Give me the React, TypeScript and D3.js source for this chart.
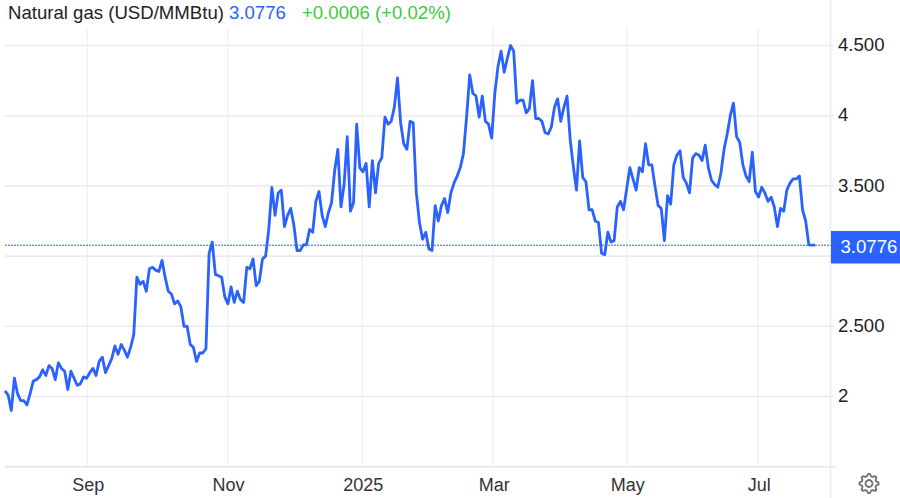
import * as d3 from 'd3';

const title = 'Natural gas (USD/MMBtu)';
const lastLabel = '3.0776';
const changeLabel = '+0.0006 (+0.02%)';

const prices = [
  2.04, 2.01, 1.9, 2.13, 2.02, 1.97, 1.97, 1.94, 2.02, 2.11, 2.12, 2.14, 2.19, 2.15, 2.22, 2.2, 2.12, 2.24, 2.2, 2.18,
  2.05, 2.18, 2.13, 2.08, 2.09, 2.14, 2.13, 2.17, 2.2, 2.15, 2.25, 2.28, 2.17, 2.22, 2.27, 2.36, 2.3, 2.37, 2.33, 2.28,
  2.35, 2.44, 2.85, 2.8, 2.82, 2.75, 2.91, 2.92, 2.9, 2.89, 2.97, 2.85, 2.75, 2.73, 2.66, 2.68, 2.64, 2.5, 2.5, 2.37,
  2.35, 2.25, 2.31, 2.31, 2.34, 3.02, 3.1, 2.87, 2.86, 2.85, 2.71, 2.66, 2.78, 2.67, 2.75, 2.69, 2.67, 2.92, 2.91, 2.98,
  2.79, 2.82, 2.98, 3.0, 3.19, 3.49, 3.29, 3.45, 3.47, 3.21, 3.29, 3.34, 3.22, 3.04, 3.04, 3.08, 3.08, 3.19, 3.17, 3.39,
  3.46, 3.29, 3.21, 3.31, 3.38, 3.61, 3.76, 3.35, 3.51, 3.85, 3.32, 3.38, 3.94, 3.63, 3.6, 3.66, 3.35, 3.68, 3.45, 3.66,
  3.7, 3.99, 3.94, 3.96, 4.06, 4.27, 3.95, 3.8, 3.76, 3.96, 3.95, 3.45, 3.24, 3.12, 3.17, 3.05, 3.04, 3.36, 3.25, 3.36,
  3.41, 3.31, 3.45, 3.52, 3.57, 3.63, 3.73, 3.99, 4.29, 4.16, 4.14, 3.99, 4.14, 3.96, 3.94, 3.84, 4.16, 4.35, 4.46, 4.31,
  4.41, 4.5, 4.46, 4.09, 4.11, 4.11, 4.02, 4.05, 4.25, 3.98, 3.98, 3.96, 3.88, 3.87, 3.92, 4.06, 4.12, 3.96, 4.06, 4.14,
  3.83, 3.64, 3.47, 3.82, 3.56, 3.53, 3.33, 3.33, 3.25, 3.24, 3.02, 3.01, 3.17, 3.1, 3.11, 3.35, 3.39, 3.33, 3.48, 3.63,
  3.55, 3.47, 3.63, 3.6, 3.8, 3.65, 3.65, 3.5, 3.36, 3.34, 3.11, 3.43, 3.37, 3.65, 3.72, 3.75, 3.56, 3.52, 3.45, 3.7,
  3.73, 3.72, 3.68, 3.79, 3.63, 3.54, 3.51, 3.49, 3.59, 3.76, 3.87, 4.0, 4.09, 3.85, 3.81, 3.65, 3.57, 3.53, 3.74, 3.46,
  3.42, 3.49, 3.45, 3.39, 3.42, 3.35, 3.21, 3.34, 3.32, 3.47, 3.52, 3.55, 3.55, 3.57, 3.33, 3.25, 3.08, 3.0776, 3.0776,
];

const lastPrice = 3.0776;
const yTicks = [2, 2.5, 3, 3.5, 4, 4.5];
const yTickLabels = ['2', '2.500', '', '3.500', '4', '4.500'];
const monthLabels = ['Sep', 'Nov', '2025', 'Mar', 'May', 'Jul'];
const monthIndex = [26.2, 70.9, 113.8, 155.5, 198, 239.9];

const width = 900;
const height = 498;
const axisX = 830.5;
const FONT = '"Liberation Sans", Arial, sans-serif';

export default function App() {
  // y: 2 -> 396.5, 4.5 -> 45.5
  const y = d3.scaleLinear().domain([1.5, 4.5]).range([466.7, 45.5]);
  const x = d3.scaleLinear().domain([0, prices.length - 1]).range([5, 815.1]);

  const line = d3.line<number>()
    .x((_, i) => x(i))
    .y(d => y(d));

  // settings gear in the corner
  const teeth = 8;
  const gearPoints: [number, number][] = d3.range(teeth * 4).map(i => {
    const a = (i / (teeth * 4)) * Math.PI * 2 - Math.PI / 32;
    return [a, i % 4 < 2 ? 9.6 : 7.4];
  });
  const gear = d3.lineRadial().curve(d3.curveLinearClosed)(gearPoints) || '';

  return (
    <svg
      width={width}
      height={height}
      viewBox={`0 0 ${width} ${height}`}
      style={{ position: 'absolute', left: 0, top: 0, background: '#fff', fontFamily: FONT }}
    >
      {monthIndex.map((m, i) => (
        <line key={i} x1={x(m)} x2={x(m)} y1={27} y2={467} stroke="#eef3f7" strokeWidth={1.5} />
      ))}
      {yTicks.map(t => (
        <line key={t} x1={5} x2={834} y1={y(t)} y2={y(t)} stroke="#ebebeb" strokeWidth={1.6} />
      ))}
      <line x1={5} x2={836} y1={y(1.5)} y2={y(1.5)} stroke="#e6e6e6" strokeWidth={1.6} />
      <line x1={axisX} x2={axisX} y1={0} y2={498} stroke="#ebebeb" strokeWidth={1.6} />

      <line x1={5} x2={axisX} y1={y(lastPrice)} y2={y(lastPrice)} stroke="#2962ff" strokeWidth={1} strokeDasharray="2 1" />
      <path d={line(prices) || ''} fill="none" stroke="#2962ff" strokeWidth={2.8} strokeLinejoin="round" />

      {yTicks.map((t, i) => (
        <text key={t} x={838} y={y(t) + 5.6} fontSize={18.6} fill="#222">{yTickLabels[i]}</text>
      ))}
      <rect x={831} y={231} width={69} height={32.5} fill="#2962ff" />
      <text x={840.5} y={253} fontSize={18.6} fill="#fff">{lastLabel}</text>

      {monthLabels.map((m, i) => (
        <text key={m} x={x(monthIndex[i]) + 1} y={491} fontSize={18} fill="#333" textAnchor="middle">{m}</text>
      ))}

      <text x={8} y={18.5} fontSize={18.6} fill="#222">{title}</text>
      <text x={229} y={18.5} fontSize={18.6} fill="#2962ff">{lastLabel}</text>
      <text x={302} y={18.5} fontSize={18.6} fill="#3ecb3e">{changeLabel}</text>

      <g transform="translate(869,483.5)" fill="none" stroke="#707070" strokeWidth={1.8}>
        <path d={gear} strokeLinejoin="round" />
        <circle r={3.5} />
      </g>
    </svg>
  );
}
